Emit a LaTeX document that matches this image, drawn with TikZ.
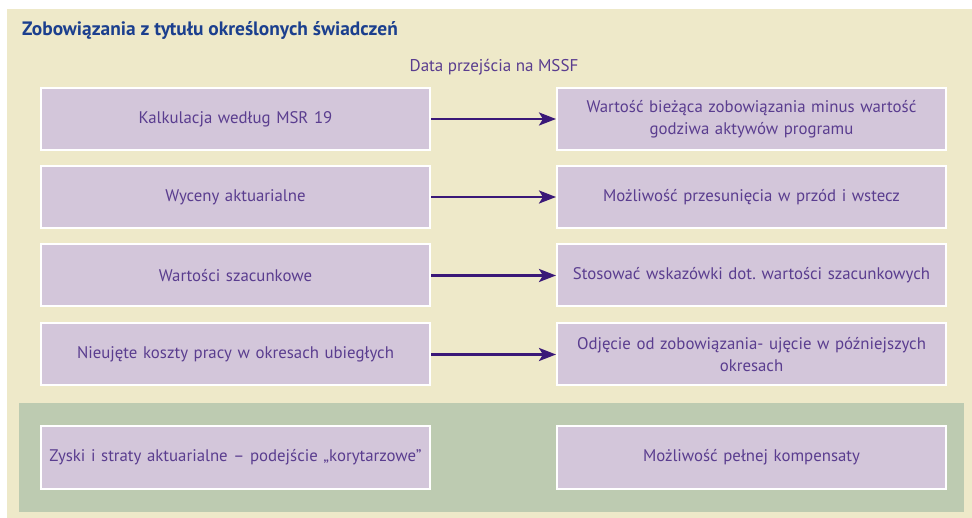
\documentclass[tikz,border=0pt]{standalone}
\usepackage{fontspec}
\setmainfont{PT Sans}
\usetikzlibrary{arrows.meta}
\definecolor{beige}{HTML}{EEE9C9}
\definecolor{sage}{HTML}{BDCBB1}
\definecolor{lilac}{HTML}{D3C6DA}
\definecolor{txtpurple}{HTML}{5A3D8F}
\definecolor{arrowpurple}{HTML}{3A1878}
\definecolor{titleblue}{HTML}{1B3F8E}
\frenchspacing
\tikzset{
  box/.style={draw=white, line width=2pt, fill=lilac, minimum width=389pt, minimum height=62pt,
    inner sep=0pt, align=center, text width=385pt, text=txtpurple, font=\fontsize{16.8}{22}\selectfont},
  conn/.style={draw=arrowpurple, line width=2.6pt, -{Stealth[length=17pt,width=13pt,inset=4pt]}}
}
\begin{document}
\begin{tikzpicture}[x=1pt,y=-1pt]
\useasboundingbox (0,0) rectangle (972,518);
\fill[beige] (7,9) rectangle (972,518);
\fill[sage] (19,403) rectangle (964,512);
\node[anchor=west, font=\bfseries\fontsize{19.4}{22}\selectfont, text=titleblue, inner sep=0pt] (title) at (22,31) {Zobowiązania z tytułu określonych świadczeń};
\node[font=\fontsize{17}{20}\selectfont, text=txtpurple, inner sep=0pt] (date) at (494,67) {Data przejścia na MSSF};
\node[box] (l1) at (235.5,119) {Kalkulacja według MSR 19};
\node[box] (r1) at (751.5,119) {Wartość bieżąca zobowiązania minus wartość\\godziwa aktywów programu};
\node[box] (l2) at (235.5,197) {Wyceny aktuarialne};
\node[box] (r2) at (751.5,197) {Możliwość przesunięcia w przód i wstecz};
\node[box] (l3) at (235.5,275.5) {Wartości szacunkowe};
\node[box] (r3) at (751.5,275.5) {Stosować wskazówki dot. wartości szacunkowych};
\node[box] (l4) at (235.5,354.5) {Nieujęte koszty pracy w okresach ubiegłych};
\node[box] (r4) at (751.5,354.5) {Odjęcie od zobowiązania- ujęcie w późniejszych\\okresach};
\node[box, minimum height=63pt] (l5) at (235.5,457.5) {Zyski i straty aktuarialne – podejście „korytarzowe”};
\node[box, minimum height=63pt] (r5) at (751.5,457.5) {Możliwość pełnej kompensaty};
\foreach \i in {1,2,3,4} {
  \draw[conn] (l\i.east) -- (r\i.west);
}
\end{tikzpicture}
\end{document}
